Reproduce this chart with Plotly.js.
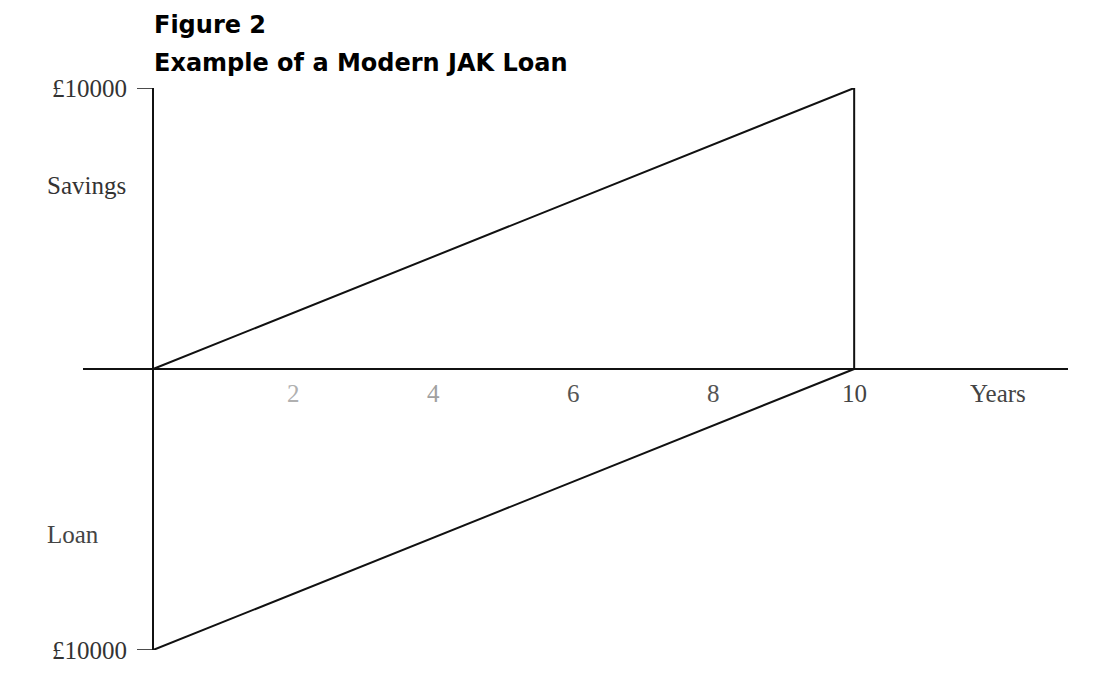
<!DOCTYPE html>
<html><head><meta charset="utf-8">
<script src="https://cdn.plot.ly/plotly-3.0.1.min.js"></script>
<style>html,body{margin:0;padding:0;background:#fff}</style>
</head><body><div id="chart" style="width:1104px;height:685px"></div>
<script>
// Data
const years = [0, 10];
const savings = [0, 10000];
const loan = [-10000, 0];
const maxAmount = 10000;
const xTickVals = [2, 4, 6, 8, 10];
const xTickText = ['2', '4', '6', '8', '10'];
const xTickColors = ['#b0b0b0', '#a0a0a0', '#555', '#555', '#444'];
const amountLabel = '£10000';

const serif = 'Liberation Serif, Times New Roman, serif';
const fs = 25;
const lineStyle = {color: '#111', width: 2};

const traces = [
  {x: [years[0], years[1], years[1]], y: [savings[0], savings[1], 0], mode: 'lines', line: lineStyle, hoverinfo: 'skip'},
  {x: years, y: loan, mode: 'lines', line: lineStyle, hoverinfo: 'skip'},
  {x: [-0.23, 0], y: [maxAmount, maxAmount], mode: 'lines', line: {color: '#111', width: 1.5}, hoverinfo: 'skip'},
  {x: [-0.23, 0], y: [-maxAmount, -maxAmount], mode: 'lines', line: {color: '#111', width: 1.5}, hoverinfo: 'skip'}
];

const annotations = [];
xTickVals.forEach((v, i) => annotations.push({
  x: v, y: 0, xref: 'x', yref: 'y', text: xTickText[i], showarrow: false,
  yanchor: 'top', yshift: -9, font: {family: serif, size: fs, color: xTickColors[i]}
}));
annotations.push({x: 12.05, y: 0, xref: 'x', yref: 'y', text: 'Years', showarrow: false,
  yanchor: 'top', yshift: -9, font: {family: serif, size: fs, color: '#444'}});
annotations.push({x: 0, y: maxAmount, xref: 'x', yref: 'y', text: amountLabel, showarrow: false,
  xanchor: 'right', xshift: -24, font: {family: serif, size: fs, color: '#333'}});
annotations.push({x: 0, y: -maxAmount, xref: 'x', yref: 'y', text: amountLabel, showarrow: false,
  xanchor: 'right', xshift: -24, font: {family: serif, size: fs, color: '#333'}});
annotations.push({x: -0.0386, y: 6548, xref: 'paper', yref: 'y', text: 'Savings', showarrow: false,
  xanchor: 'left', font: {family: serif, size: fs, color: '#333'}});
annotations.push({x: -0.0386, y: -5907, xref: 'paper', yref: 'y', text: 'Loan', showarrow: false,
  xanchor: 'left', font: {family: serif, size: fs, color: '#444'}});
annotations.push({x: 0.07, y: 1, xref: 'paper', yref: 'paper', text: '<b>Figure 2</b>', showarrow: false,
  xanchor: 'left', yanchor: 'middle', yshift: 63, font: {family: 'DejaVu Sans', size: 24, color: '#000'}});
annotations.push({x: 0.07, y: 1, xref: 'paper', yref: 'paper', text: '<b>Example of a Modern JAK Loan</b>', showarrow: false,
  xanchor: 'left', yanchor: 'middle', yshift: 25, font: {family: 'DejaVu Sans', size: 24, color: '#000'}});

const layout = {
  width: 1104, height: 685,
  margin: {l: 83, r: 36, t: 88, b: 35},
  paper_bgcolor: '#fff', plot_bgcolor: '#fff',
  showlegend: false,
  xaxis: {range: [-1, 13.05], showgrid: false, zeroline: true, zerolinecolor: '#111', zerolinewidth: 2,
    showticklabels: false, ticks: '', showline: false, fixedrange: true},
  yaxis: {range: [-maxAmount, maxAmount], showgrid: false, zeroline: true, zerolinecolor: '#111', zerolinewidth: 2,
    showticklabels: false, ticks: '', showline: false, fixedrange: true},
  annotations: annotations
};
Plotly.newPlot('chart', traces, layout, {displayModeBar: false, staticPlot: true});
</script></body></html>
